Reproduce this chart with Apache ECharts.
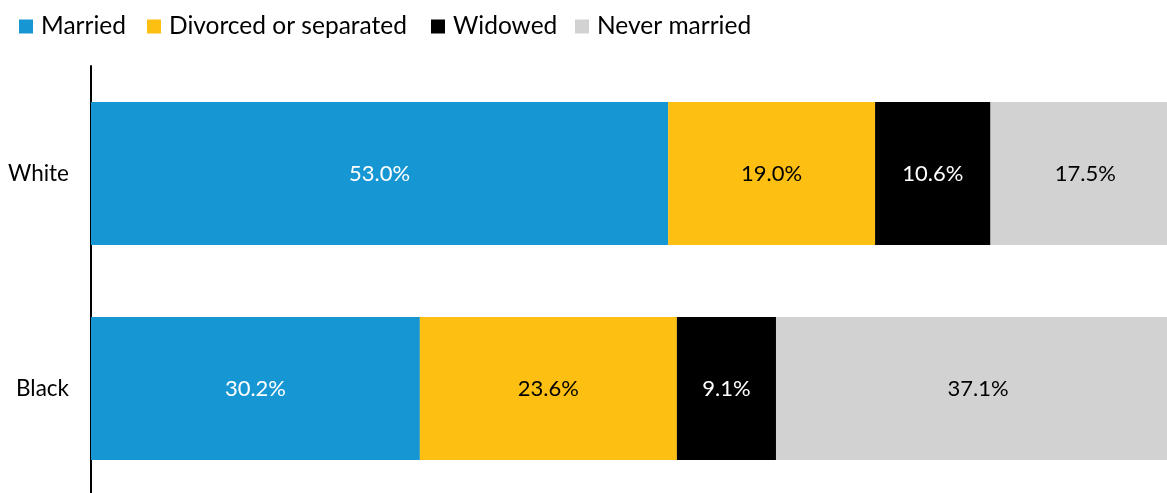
<!DOCTYPE html>
<html>
<head>
<meta charset="utf-8">
<script src="https://cdn.jsdelivr.net/npm/echarts@6/dist/echarts.min.js"></script>
<style>
  html, body { margin: 0; padding: 0; background: #fff; }
  #chart { width: 1167px; height: 493px; }
</style>
</head>
<body>
<div id="chart"></div>
<script>
// Marital status shares by race (percent)
const categories = ['White', 'Black'];
const married = [53.0, 30.2];
const divorced = [19.0, 23.6];
const widowed = [10.6, 9.1];
const neverMarried = [17.5, 37.1];

const seriesNames = ['Married', 'Divorced or separated', 'Widowed', 'Never married'];
const seriesData = [married, divorced, widowed, neverMarried];
const fills = ['#1696d2', '#fdbf11', '#000000', '#d2d2d2'];
const labelInk = ['#ffffff', '#000000', '#ffffff', '#000000'];

const FONT = 'Lato, "Noto Sans", sans-serif';

// one legend entry per key, placed along the top row
const legendLeft = [14, 142, 426, 570];

const chart = echarts.init(document.getElementById('chart'), null, { renderer: 'canvas' });

chart.setOption({
  animation: false,
  textStyle: { fontFamily: FONT },
  legend: seriesNames.map((name, i) => ({
    left: legendLeft[i],
    top: 9,
    icon: 'rect',
    itemWidth: 14,
    itemHeight: 14,
    selectedMode: false,
    textStyle: { fontSize: 24.5, color: '#000', fontFamily: FONT, padding: [0, 0, 0, 3] },
    data: [name]
  })),
  // plot area runs a little past the right edge of the page
  grid: { left: 91, top: 66, width: 1089, height: 430, outerBoundsMode: 'none' },
  xAxis: {
    type: 'value',
    min: 0,
    max: 100,
    show: false
  },
  yAxis: {
    type: 'category',
    data: categories,
    inverse: true,
    axisLine: { show: true, lineStyle: { color: '#000', width: 2 } },
    axisTick: { show: false },
    splitLine: { show: false },
    axisLabel: { fontSize: 22.5, color: '#000', margin: 22, fontFamily: FONT }
  },
  series: seriesNames.map((name, i) => ({
    name: name,
    type: 'bar',
    stack: 'total',
    barWidth: 143,
    data: seriesData[i],
    itemStyle: { color: fills[i] },
    label: {
      show: true,
      position: 'inside',
      color: labelInk[i],
      fontSize: 22,
      fontFamily: FONT,
      formatter: p => p.value.toFixed(1) + '%'
    }
  }))
});
</script>
</body>
</html>
